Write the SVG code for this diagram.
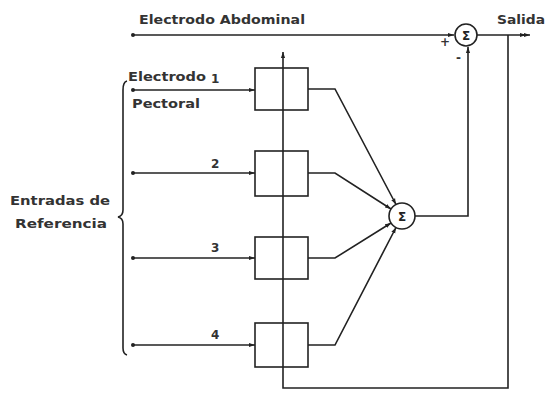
<svg xmlns="http://www.w3.org/2000/svg" width="547" height="393" viewBox="0 0 547 393">
<defs>
<marker id="ah" viewBox="0 0 10 10" refX="10" refY="5" markerWidth="6" markerHeight="6" orient="auto" markerUnits="userSpaceOnUse"><path d="M0,1.5 L10,5 L0,8.5 Z" fill="#222"/></marker>
<marker id="dot" viewBox="0 0 10 10" refX="5" refY="5" markerWidth="4" markerHeight="4" markerUnits="userSpaceOnUse"><circle cx="5" cy="5" r="5" fill="#222"/></marker>
</defs>
<style>
.ln{fill:none;stroke:#222;stroke-width:1.6}
.bx{fill:#fff;stroke:#222;stroke-width:1.6}
.t{font-family:"DejaVu Sans",sans-serif;font-weight:bold;font-size:12px;fill:#333}
.s{font-family:"DejaVu Sans",sans-serif;font-weight:bold;font-size:12px;fill:#222}
</style>
<rect width="547" height="393" fill="#fff"/>
<g id="labels">
<text class="t" x="139" y="24" textLength="166" lengthAdjust="spacingAndGlyphs">Electrodo Abdominal</text>
<text class="t" x="497" y="24" textLength="48" lengthAdjust="spacingAndGlyphs">Salida</text>
<text class="t" x="128" y="81" textLength="78" lengthAdjust="spacingAndGlyphs">Electrodo</text>
<text class="t" x="211" y="83" font-size="10">1</text>
<text class="t" x="132" y="108" textLength="68" lengthAdjust="spacingAndGlyphs">Pectoral</text>
<text class="t" x="211" y="168" font-size="10">2</text>
<text class="t" x="211" y="252" font-size="10">3</text>
<text class="t" x="211" y="339" font-size="10">4</text>
<text class="t" x="10" y="205" textLength="100" lengthAdjust="spacingAndGlyphs">Entradas de</text>
<text class="t" x="15" y="228" textLength="92" lengthAdjust="spacingAndGlyphs">Referencia</text>
<text class="t" x="440" y="46" font-size="7">+</text>
<text class="t" x="456" y="62" font-size="10">-</text>
</g>
<g id="connectors">
<path class="ln" d="M133,35 L454,35" marker-start="url(#dot)" marker-end="url(#ah)"/>
<path class="ln" d="M477,35 L530,35" marker-end="url(#ah)"/>
<path class="ln" d="M520,35 L526,35" marker-end="url(#ah)"/>
<path class="ln" d="M415,216 L468,216 L468,47" marker-end="url(#ah)"/>
<path class="ln" d="M508,35 L508,388 L283,388 L283,52" marker-end="url(#ah)"/>
<path class="ln" d="M133,90 L255,90" marker-start="url(#dot)" marker-end="url(#ah)"/>
<path class="ln" d="M133,173 L255,173" marker-start="url(#dot)" marker-end="url(#ah)"/>
<path class="ln" d="M133,258 L255,258" marker-start="url(#dot)" marker-end="url(#ah)"/>
<path class="ln" d="M133,345 L255,345" marker-start="url(#dot)" marker-end="url(#ah)"/>
<path class="ln" d="M308,89 L335,89 L396,204.5" marker-end="url(#ah)"/>
<path class="ln" d="M308,173 L335,173 L391,209" marker-end="url(#ah)"/>
<path class="ln" d="M308,258 L335,258 L391,223" marker-end="url(#ah)"/>
<path class="ln" d="M308,345 L335,345 L396,227.5" marker-end="url(#ah)"/>
<path class="ln" d="M127,81 Q123,82 123,90 L123,210 Q123,216 118,217 Q123,218 123,224 L123,348 Q123,354 127,355"/>
</g>
<g id="box1"><rect class="bx" x="255" y="68" width="53" height="42" style="fill:none"/></g>
<g id="box2"><rect class="bx" x="255" y="151" width="53" height="45" style="fill:none"/></g>
<g id="box3"><rect class="bx" x="255" y="237" width="53" height="42" style="fill:none"/></g>
<g id="box4"><rect class="bx" x="255" y="323" width="53" height="44" style="fill:none"/></g>
<g id="sum1"><circle class="bx" cx="466" cy="35" r="11"/><text class="s" x="466" y="39.5" text-anchor="middle">Σ</text></g>
<g id="sum2"><circle class="bx" cx="402" cy="216" r="13"/><text class="s" x="402" y="220.5" text-anchor="middle">Σ</text></g>
</svg>
